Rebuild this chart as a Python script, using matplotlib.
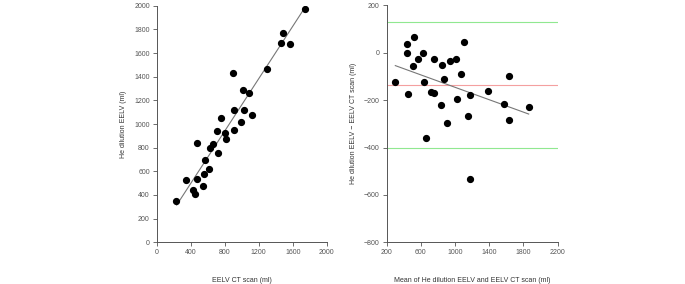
import numpy as np
import matplotlib
matplotlib.use("Agg")
import matplotlib.pyplot as plt

plt.rcParams['font.family'] = ['Liberation Sans', 'DejaVu Sans']

# Left panel: EELV CT scan vs He dilution EELV
ct_eelv = [227, 349, 431, 451, 478, 475, 541, 553, 569, 612, 627, 659, 714, 725, 753,
           808, 820, 898, 914, 914, 988, 1016, 1024, 1086, 1125, 1298, 1459, 1482, 1573, 1745]
he_eelv = [352, 527, 439, 411, 839, 532, 476, 580, 693, 617, 794, 831, 938, 755, 1054,
           921, 873, 1431, 1115, 949, 1020, 1287, 1115, 1262, 1079, 1462, 1682, 1766, 1673, 1975]

# Right panel: Bland-Altman
ba_mean = [301, 438, 442, 446, 516, 512, 570, 621, 641, 664, 715, 750, 750, 832, 851,
           871, 906, 937, 1011, 1023, 1073, 1105, 1151, 1171, 1179, 1381, 1569, 1627, 1627, 1861]
ba_diff = [-122, 38, 0, -173, 66, -55, -26, 0, -122, -360, -166, -171, -28, -219, -53,
           -112, -298, -36, -26, -197, -88, 45, -268, -533, -177, -161, -218, -98, -284, -229]

left_fit = (1.107, 55)      # slope, intercept
right_fit = (-0.131, -15)   # slope, intercept
bias = -136
loa_upper = 128
loa_lower = -400

left_xticks = [0, 400, 800, 1200, 1600, 2000]
left_yticks = [0, 200, 400, 600, 800, 1000, 1200, 1400, 1600, 1800, 2000]
right_xticks = [200, 600, 1000, 1400, 1800, 2200]
right_yticks = [-800, -600, -400, -200, 0, 200]

gray = "#555555"
fig = plt.figure(figsize=(6.85, 2.84), dpi=100)
ax1 = fig.add_axes([0.2288, 0.1468, 0.2482, 0.8331])
ax2 = fig.add_axes([0.5645, 0.1468, 0.2496, 0.8345])

def style(ax):
    for s in ["top", "right"]:
        ax.spines[s].set_visible(False)
    for s in ["left", "bottom"]:
        ax.spines[s].set_color(gray)
        ax.spines[s].set_linewidth(0.7)
    ax.tick_params(colors=gray, labelsize=5, length=3, width=0.6, pad=2)

# Left
ax1.plot(ct_eelv, he_eelv, "o", color="black", markersize=4.2, zorder=3)
xl = np.array([min(ct_eelv) + 8, max(ct_eelv)])
ax1.plot(xl, left_fit[0] * xl + left_fit[1], color="#777777", lw=0.8)
ax1.set_xlim(0, 2000)
ax1.set_ylim(0, 2000)
ax1.set_xticks(left_xticks)
ax1.set_yticks(left_yticks)
style(ax1)
ax1.set_xlabel("EELV CT scan (ml)", fontsize=5, color="#333333", labelpad=15)
ax1.set_ylabel("He dilution EELV (ml)", fontsize=5, color="#333333", labelpad=5)

# Right
ax2.axhline(loa_upper, color="#90e890", lw=0.8)
ax2.axhline(loa_lower, color="#90e890", lw=0.8)
ax2.axhline(bias, color="#f4a0a0", lw=0.8)
ax2.plot(ba_mean, ba_diff, "o", color="black", markersize=4.2, zorder=3)
xr = np.array([min(ba_mean), max(ba_mean)])
ax2.plot(xr, right_fit[0] * xr + right_fit[1], color="#777777", lw=0.8)
ax2.set_xlim(200, 2200)
ax2.set_ylim(-800, 200)
ax2.set_xticks(right_xticks)
ax2.set_yticks(right_yticks)
style(ax2)
ax2.set_xlabel("Mean of He dilution EELV and EELV CT scan (ml)", fontsize=5, color="#333333", labelpad=15)
ax2.set_ylabel("He dilution EELV \u2212 EELV CT scan (ml)", fontsize=5, color="#333333", labelpad=5)

fig.savefig("out.png", dpi=100)
